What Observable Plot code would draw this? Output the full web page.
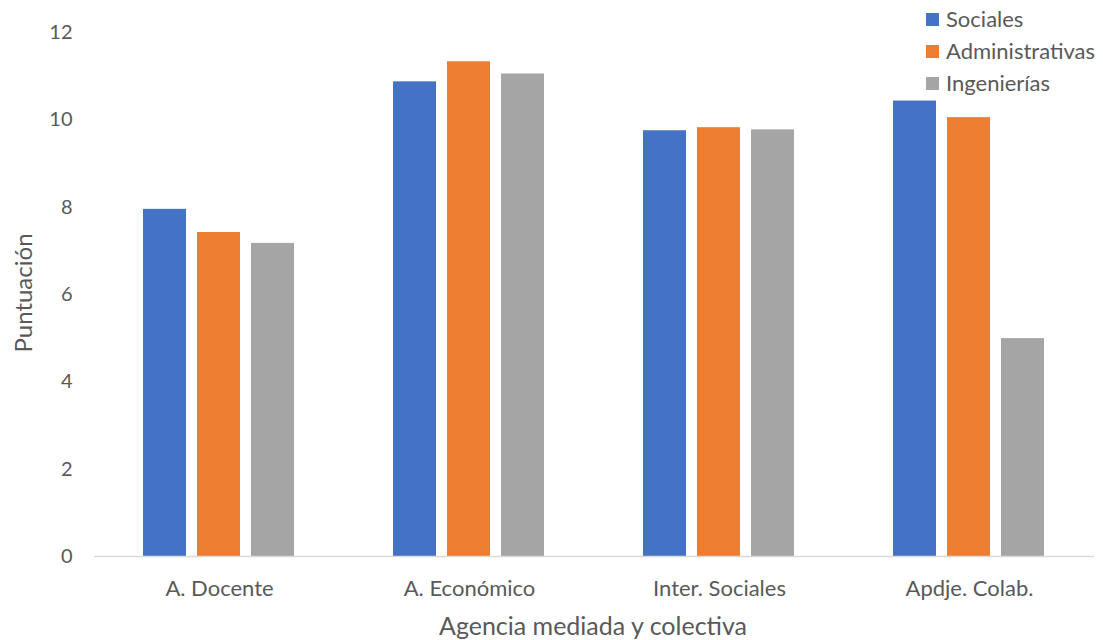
<!DOCTYPE html>
<html>
<head>
<meta charset="utf-8">
<script src="https://cdn.jsdelivr.net/npm/d3@7"></script>
<script src="https://cdn.jsdelivr.net/npm/@observablehq/plot@0.6"></script>
<style>
  html, body { margin: 0; padding: 0; background: #fff; }
  #wrap { position: relative; width: 1103px; height: 640px; font-family: Lato, sans-serif; color: #595959; }
  #wrap svg { position: absolute; left: 0; top: 0; }
  .legend { position: absolute; left: 926px; top: 3px; font-size: 22px; line-height: 32px; }
  .legend .item { display: flex; align-items: center; white-space: nowrap; }
  .legend .sw { width: 13px; height: 13px; margin-right: 7px; display: inline-block; }
  .ylab { position: absolute; left: 22px; top: 293px; transform: translate(-50%, -50%) rotate(-90deg); font-size: 24px; white-space: nowrap; }
  .xlab { position: absolute; left: 593px; top: 625px; transform: translate(-50%, -50%); font-size: 25px; white-space: nowrap; }
</style>
</head>
<body>
<div id="wrap"></div>
<script>
const categories = ["A. Docente", "A. Económico", "Inter. Sociales", "Apdje. Colab."];
const series = ["Sociales", "Administrativas", "Ingenierías"];
const sociales = [7.95, 10.87, 9.75, 10.43];
const administrativas = [7.42, 11.33, 9.82, 10.05];
const ingenierias = [7.17, 11.05, 9.77, 4.99];
const yTicks = [0, 2, 4, 6, 8, 10, 12];
const colors = ["#4472C4", "#ED7D31", "#A5A5A5"];
const xTitle = "Agencia mediada y colectiva";
const yTitle = "Puntuación";

const seriesValues = [sociales, administrativas, ingenierias];
const data = [];
categories.forEach((c, i) => {
  series.forEach((s, j) => data.push({ category: c, serie: s, value: seriesValues[j][i] }));
});

const chart = Plot.plot({
  width: 1103,
  height: 640,
  marginLeft: 93,
  marginRight: 8,
  marginTop: 32,
  marginBottom: 84,
  style: { fontFamily: "Lato, sans-serif", fontSize: "20px", color: "#595959", background: "transparent" },
  fx: { domain: categories, padding: 0, label: null, tickSize: 0, tickPadding: 24, axis: "bottom" },
  x: { domain: series, paddingInner: 0.2, paddingOuter: 0.877, axis: null },
  y: { domain: [0, 12], ticks: yTicks, label: null, tickSize: 0, tickPadding: 22, tickFormat: d3.format("d") },
  color: { domain: series, range: colors },
  marks: [
    Plot.barY(data, { fx: "category", x: "serie", y: "value", fill: "serie" }),
    Plot.ruleY([0], { stroke: "#D9D9D9", strokeWidth: 1.3 })
  ]
});
chart.querySelectorAll("text").forEach(t => t.setAttribute("fill", "#595959"));
chart.querySelectorAll('[aria-label^="fx-axis"]').forEach(g => { g.style.fontSize = "22px"; g.setAttribute("font-size", "22px"); });
const wrap = document.getElementById("wrap");
wrap.appendChild(chart);

const legend = document.createElement("div");
legend.className = "legend";
series.forEach((s, j) => {
  const item = document.createElement("div");
  item.className = "item";
  const sw = document.createElement("span");
  sw.className = "sw";
  sw.style.background = colors[j];
  item.appendChild(sw);
  item.appendChild(document.createTextNode(s));
  legend.appendChild(item);
});
wrap.appendChild(legend);

const yl = document.createElement("div");
yl.className = "ylab";
yl.textContent = yTitle;
wrap.appendChild(yl);

const xl = document.createElement("div");
xl.className = "xlab";
xl.textContent = xTitle;
wrap.appendChild(xl);
</script>
</body>
</html>
